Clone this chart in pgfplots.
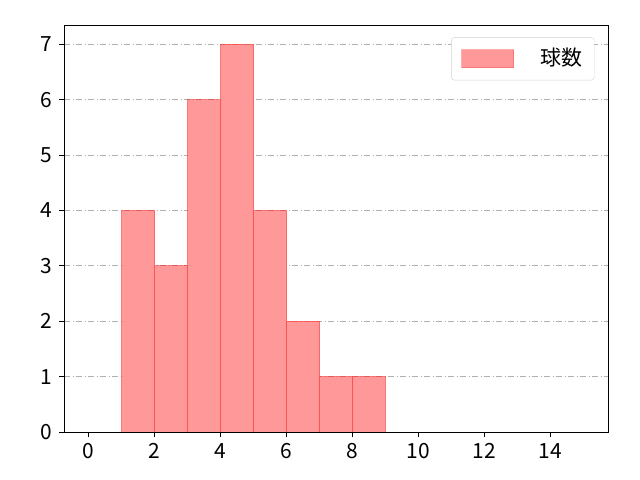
\documentclass[border=0pt]{standalone}
\usepackage{pgfplots}
\pgfplotsset{compat=1.18}
\usepackage{fontspec}
\setmainfont{Noto Sans CJK JP}
\definecolor{barfill}{RGB}{255,153,153}
\definecolor{gridc}{RGB}{176,176,176}
\begin{document}
\fontsize{21}{25}\selectfont
\begin{tikzpicture}[x=1bp,y=1bp]
\begin{axis}[
  at={(0,0)}, anchor=south west,
  scale only axis,
  width=544bp, height=407bp,
  xmin=-0.75, xmax=15.75,
  ymin=0, ymax=7.35,
  xtick={0,2,...,14},
  ytick={0,1,...,7},
  tick align=outside,
  tick pos=left,
  major tick length=5bp,
  tick style={black, line width=0.8bp},
  axis line style={black, line width=0.8bp},
  ymajorgrids,
  grid style={gridc, line width=0.8bp, dash pattern=on 6bp off 2.5bp on 1bp off 2.5bp},
  /pgf/number format/assume math mode=true,
  ticklabel style={font=\fontsize{21}{25}\selectfont},
  xticklabel style={yshift=1bp},
  legend style={at={(0.975,0.97)}, anchor=north east, draw=gray!35, rounded corners=3bp,
    font=\fontsize{21}{25}\selectfont, inner xsep=10bp, inner ysep=9bp,
    /tikz/every even column/.append style={column sep=12bp}},
  legend image code/.code={\draw[#1, sharp corners, draw=red!70, fill=barfill] (0bp,-9bp) rectangle (52bp,9bp);},
  legend cell align=left,
]
\addplot[ybar interval, fill=barfill, draw=red, draw opacity=0.45, line width=1bp]
  coordinates {(1,4) (2,3) (3,6) (4,7) (5,4) (6,2) (7,1) (8,1) (9,0)};
\addlegendentry{\hspace{24bp}球数}
\end{axis}
\pgfresetboundingbox
\path[use as bounding box] (-64bp,-48bp) rectangle (576bp,432bp);
\end{tikzpicture}
\end{document}
